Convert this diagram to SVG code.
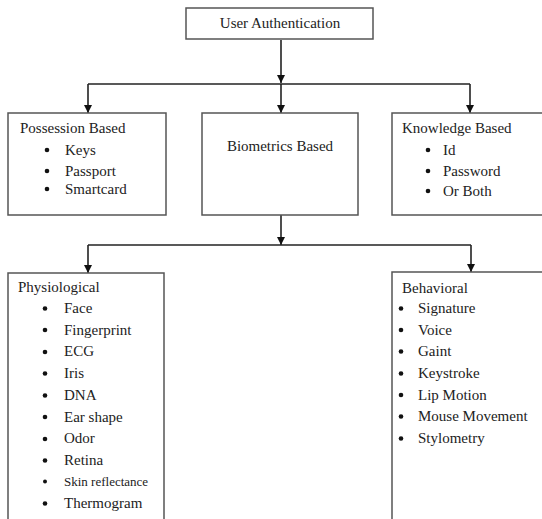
<svg xmlns="http://www.w3.org/2000/svg" width="542" height="519" viewBox="0 0 542 519">
<style>
.box{fill:#fff;stroke:#555;stroke-width:1.5}
.t{font-family:"Liberation Serif","Times New Roman",serif;font-size:15px;fill:#222}
.s{font-size:13px}
.c{stroke:#222;stroke-width:1.6;fill:none}
.b{fill:#111}
</style>
<defs>
<marker id="ah" viewBox="0 0 10 10" refX="10" refY="5" markerWidth="5" markerHeight="5" orient="auto" markerUnits="strokeWidth">
<path d="M0,0 L10,5 L0,10 Z" fill="#111"/>
</marker>
</defs>
<rect width="542" height="519" fill="#fff"/>
<g id="connectors">
<line class="c" x1="281" y1="40" x2="281" y2="83" marker-end="url(#ah)"/>
<line class="c" x1="88" y1="84" x2="470" y2="84"/>
<line class="c" x1="88" y1="84" x2="88" y2="113" marker-end="url(#ah)"/>
<line class="c" x1="281" y1="84" x2="281" y2="113" marker-end="url(#ah)"/>
<line class="c" x1="470" y1="84" x2="470" y2="113" marker-end="url(#ah)"/>
<line class="c" x1="281" y1="215" x2="281" y2="245" marker-end="url(#ah)"/>
<line class="c" x1="88" y1="245" x2="471" y2="245"/>
<line class="c" x1="88" y1="245" x2="88" y2="273" marker-end="url(#ah)"/>
<line class="c" x1="471" y1="245" x2="471" y2="272" marker-end="url(#ah)"/>
</g>
<g id="user-authentication">
<rect class="box" x="186" y="8" width="187" height="31"/>
<text class="t" x="280" y="28" text-anchor="middle">User Authentication</text>
</g>
<g id="possession-based">
<rect class="box" x="8" y="113" width="158" height="102"/>
<text class="t" x="20" y="133">Possession Based</text>
<circle class="b" cx="47" cy="150" r="2.3"/><text class="t" x="65" y="155">Keys</text>
<circle class="b" cx="47" cy="171" r="2.3"/><text class="t" x="65" y="176">Passport</text>
<circle class="b" cx="47" cy="189" r="2.3"/><text class="t" x="65" y="194">Smartcard</text>
</g>
<g id="biometrics-based">
<rect class="box" x="202" y="113" width="156" height="102"/>
<text class="t" x="280" y="151" text-anchor="middle">Biometrics Based</text>
</g>
<g id="knowledge-based">
<rect class="box" x="392" y="113" width="170" height="102"/>
<text class="t" x="402" y="133">Knowledge Based</text>
<circle class="b" cx="428" cy="150" r="2.3"/><text class="t" x="443" y="155">Id</text>
<circle class="b" cx="428" cy="171" r="2.3"/><text class="t" x="443" y="176">Password</text>
<circle class="b" cx="428" cy="191" r="2.3"/><text class="t" x="443" y="196">Or Both</text>
</g>
<g id="physiological">
<rect class="box" x="8" y="273" width="156" height="260"/>
<text class="t" x="18" y="292">Physiological</text>
<circle class="b" cx="45" cy="308.5" r="2.3"/><text class="t" x="64" y="313">Face</text>
<circle class="b" cx="45" cy="330" r="2.3"/><text class="t" x="64" y="334.7">Fingerprint</text>
<circle class="b" cx="45" cy="352" r="2.3"/><text class="t" x="64" y="356.4">ECG</text>
<circle class="b" cx="45" cy="373.5" r="2.3"/><text class="t" x="64" y="378">Iris</text>
<circle class="b" cx="45" cy="395.5" r="2.3"/><text class="t" x="64" y="399.8">DNA</text>
<circle class="b" cx="45" cy="417" r="2.3"/><text class="t" x="64" y="421.5">Ear shape</text>
<circle class="b" cx="45" cy="439" r="2.3"/><text class="t" x="64" y="443.2">Odor</text>
<circle class="b" cx="45" cy="460.5" r="2.3"/><text class="t" x="64" y="465">Retina</text>
<circle class="b" cx="45" cy="481.5" r="2"/><text class="t s" x="64" y="485.5">Skin reflectance</text>
<circle class="b" cx="45" cy="503.5" r="2.3"/><text class="t" x="64" y="508">Thermogram</text>
</g>
<g id="behavioral">
<rect class="box" x="392" y="272" width="170" height="260"/>
<text class="t" x="402" y="293">Behavioral</text>
<circle class="b" cx="401" cy="308.5" r="2.3"/><text class="t" x="418" y="313">Signature</text>
<circle class="b" cx="401" cy="330" r="2.3"/><text class="t" x="418" y="334.5">Voice</text>
<circle class="b" cx="401" cy="351.5" r="2.3"/><text class="t" x="418" y="356">Gaint</text>
<circle class="b" cx="401" cy="373.5" r="2.3"/><text class="t" x="418" y="378">Keystroke</text>
<circle class="b" cx="401" cy="395" r="2.3"/><text class="t" x="418" y="399.5">Lip Motion</text>
<circle class="b" cx="401" cy="416.5" r="2.3"/><text class="t" x="418" y="421">Mouse Movement</text>
<circle class="b" cx="401" cy="438.5" r="2.3"/><text class="t" x="418" y="443">Stylometry</text>
</g>
</svg>
